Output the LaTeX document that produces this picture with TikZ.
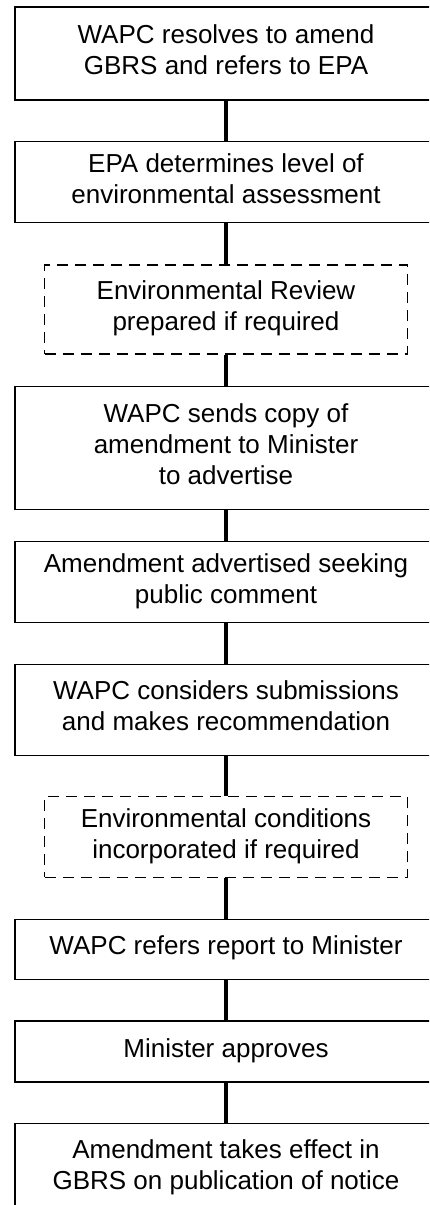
\documentclass[tikz,border=0pt]{standalone}
\usepackage{fontspec}
\setmainfont{Liberation Sans}
\tikzset{
  box/.style={draw, line width=1.2pt, minimum width=422pt, align=center, inner sep=0pt,
    font=\fontsize{26}{31}\selectfont},
  optbox/.style={box, minimum width=363pt, dash pattern=on 11pt off 7pt},
  link/.style={line width=3.2pt}
}
\newcommand\lastdp{\rule[-7.5pt]{0pt}{7.5pt}}
\begin{document}
\begin{tikzpicture}[x=1pt,y=-1pt]
\useasboundingbox (0,0) rectangle (429,1205);
\clip (0,0) rectangle (429,1205);
\node[box, minimum height=93pt] (b1) at (226,53.5) {WAPC resolves to amend\\GBRS and refers to EPA\lastdp};
\node[box, minimum height=81pt] (b2) at (226,182.2) {EPA determines level of\\environmental assessment\lastdp};
\node[optbox, minimum height=89pt] (b3) at (226,309.5) {Environmental Review\\prepared if required\lastdp};
\node[box, minimum height=123pt] (b4) at (226,447.7) {WAPC sends copy of\\amendment to Minister\\to advertise\lastdp};
\node[box, minimum height=81pt] (b5) at (226,582.2) {Amendment advertised seeking\\public comment\lastdp};
\node[box, minimum height=91pt] (b6) at (226,709.8) {WAPC considers submissions\\and makes recommendation\lastdp};
\node[optbox, minimum height=80.6pt] (b7) at (226,837) {Environmental conditions\\incorporated if required\lastdp};
\node[box, minimum height=60pt] (b8) at (226,949.3) {WAPC refers report to Minister\lastdp};
\node[box, minimum height=61pt] (b9) at (226,1051.5) {Minister approves\lastdp};
\node[box, minimum height=90pt] (b10) at (226,1168.5) {Amendment takes effect in\\GBRS on publication of notice\lastdp};
\draw[link] (b1) -- (b2);
\draw[link] (b2) -- (b3);
\draw[link] (b3) -- (b4);
\draw[link] (b4) -- (b5);
\draw[link] (b5) -- (b6);
\draw[link] (b6) -- (b7);
\draw[link] (b7) -- (b8);
\draw[link] (b8) -- (b9);
\draw[link] (b9) -- (b10);
\end{tikzpicture}
\end{document}
